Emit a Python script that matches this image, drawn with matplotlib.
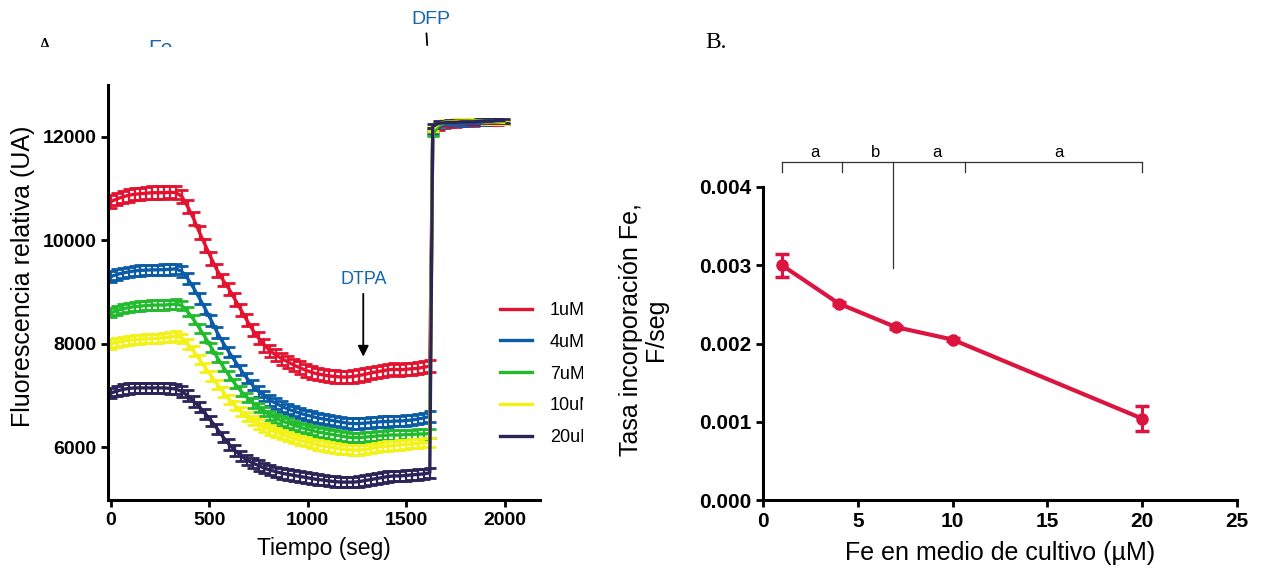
import numpy as np
import matplotlib
matplotlib.use("Agg")
import matplotlib.pyplot as plt

plt.rcParams['font.family'] = ['Liberation Sans', 'DejaVu Sans']

# ---- panel A data (time course, fluorescence) ----
t_pre = np.arange(0, 1621, 30)
t_post = np.arange(1635, 2000, 30)

labels = ['1uM', '4uM', '7uM', '10uM', '20uM']
colors = ['#e3122f', '#0b5ca6', '#22bb2e', '#f2f216', '#2c2458']
sem = [120, 100, 90, 90, 100]
sem_post = 40

f_1uM = [10750, 10800, 10840, 10870, 10890, 10900, 10910, 10920, 10920, 10920, 10930, 10920,
         10850, 10650, 10420, 10150, 9900, 9650, 9420, 9230, 9060, 8860, 8660, 8460, 8270,
         8110, 7970, 7860, 7780, 7710, 7650, 7590, 7540, 7490, 7450, 7420, 7400, 7380, 7370,
         7360, 7360, 7370, 7390, 7410, 7440, 7460, 7480, 7500, 7510, 7500, 7510, 7520, 7530,
         7550, 7570]
f_4uM = [9300, 9340, 9370, 9390, 9410, 9420, 9425, 9430, 9430, 9435, 9440, 9450,
         9400, 9260, 9080, 8880, 8670, 8450, 8220, 8020, 7840, 7670, 7500, 7340, 7200,
         7080, 6990, 6910, 6850, 6790, 6740, 6700, 6660, 6630, 6600, 6570, 6550, 6530, 6510,
         6490, 6470, 6460, 6460, 6470, 6480, 6490, 6500, 6500, 6510, 6510, 6520, 6530, 6550,
         6570, 6600]
f_7uM = [8600, 8640, 8680, 8700, 8720, 8730, 8740, 8750, 8750, 8750, 8760, 8770,
         8740, 8620, 8470, 8300, 8120, 7930, 7740, 7560, 7390, 7230, 7090, 6970, 6860,
         6770, 6690, 6620, 6560, 6510, 6470, 6430, 6390, 6360, 6330, 6300, 6280, 6260, 6240,
         6220, 6200, 6190, 6190, 6200, 6210, 6220, 6230, 6240, 6240, 6240, 6250, 6250, 6260,
         6260, 6270]
f_10uM = [8000, 8030, 8050, 8070, 8080, 8090, 8100, 8100, 8110, 8120, 8130, 8150,
          8110, 8000, 7860, 7700, 7540, 7380, 7220, 7070, 6930, 6810, 6700, 6600, 6520,
          6450, 6390, 6340, 6290, 6250, 6210, 6170, 6140, 6110, 6080, 6050, 6030, 6010, 5990,
          5970, 5960, 5950, 5950, 5960, 5980, 6000, 6020, 6030, 6040, 6050, 6060, 6070, 6080,
          6090, 6100]
f_20uM = [7050, 7090, 7120, 7140, 7150, 7150, 7150, 7150, 7150, 7150, 7140, 7130,
          7080, 7000, 6890, 6780, 6650, 6510, 6360, 6200, 6060, 5940, 5840, 5760, 5700,
          5650, 5600, 5560, 5530, 5500, 5480, 5460, 5440, 5420, 5400, 5380, 5370, 5350, 5340,
          5330, 5330, 5330, 5340, 5360, 5380, 5400, 5420, 5440, 5450, 5450, 5460, 5470, 5480,
          5490, 5510]

# after DFP
p_1uM = [12120, 12180, 12200, 12220, 12230, 12240, 12250, 12250, 12260, 12260, 12270, 12270, 12280]
p_4uM = [12080, 12200, 12230, 12240, 12250, 12250, 12260, 12260, 12270, 12270, 12280, 12280, 12290]
p_7uM = [12050, 12220, 12260, 12280, 12290, 12300, 12300, 12310, 12310, 12300, 12300, 12290, 12280]
p_10uM = [12150, 12250, 12280, 12290, 12300, 12300, 12300, 12300, 12300, 12290, 12290, 12290, 12280]
p_20uM = [12200, 12260, 12270, 12280, 12280, 12290, 12290, 12290, 12300, 12300, 12300, 12310, 12310]

pre = [f_1uM, f_4uM, f_7uM, f_10uM, f_20uM]
post = [p_1uM, p_4uM, p_7uM, p_10uM, p_20uM]

# ---- panel B data ----
fe_conc = [1, 4, 7, 10, 20]
tasa = [0.00300, 0.00251, 0.00221, 0.00205, 0.00104]
tasa_err = [0.00015, 0.00002, 0.00002, 0.00002, 0.00016]
grupos = ['a', 'b', 'a', 'a']

W, H = 1261, 572
fig = plt.figure(figsize=(W / 100, H / 100), dpi=100)


def fbox(x0, y0, x1, y1):
    # pixel box (top-left origin) -> figure fraction
    return [x0 / W, 1 - y1 / H, (x1 - x0) / W, (y1 - y0) / H]


# ================= panel A =================
ax = fig.add_axes(fbox(108, 85, 540, 500))
t_all = np.concatenate([t_pre, t_post])
handles = []
for vals, pvals, c, s, lab in zip(pre, post, colors, sem, labels):
    y = np.array(vals + pvals, dtype=float)
    e = np.array([s] * len(vals) + [sem_post] * len(pvals), dtype=float)
    cont = ax.errorbar(t_all, y, yerr=e, color=c, lw=2.4, elinewidth=1.6,
                       capsize=4, capthick=2.0, label=lab)
    handles.append(cont.lines[0])

ax.set_xlim(-15, 2180)
ax.set_ylim(4985, 13000)
ax.set_xticks([0, 500, 1000, 1500, 2000])
ax.set_yticks([6000, 8000, 10000, 12000])
for side in ['top', 'right']:
    ax.spines[side].set_visible(False)
for side in ['left', 'bottom']:
    ax.spines[side].set_linewidth(2.2)
ax.tick_params(width=2, length=5, labelsize=14)
for tl in ax.get_xticklabels() + ax.get_yticklabels():
    tl.set_fontweight('bold')
ax.set_xlabel('Tiempo (seg)', fontsize=16.5)
ax.set_ylabel('Fluorescencia relativa (UA)', fontsize=18)
ax.yaxis.set_label_coords(-0.17, 0.54)
ax.xaxis.set_label_coords(0.5, -0.09)

# DTPA arrow
ax.text(1282, 9240, 'DTPA', color='#1466b0', fontsize=13, ha='center', va='center')
ax.annotate('', xy=(1282, 7700), xytext=(1282, 9020),
            arrowprops=dict(arrowstyle='-|>', color='black', lw=1.3, mutation_scale=16))
# DFP mark
ax.annotate('DFP', xy=(1607, 13770), xytext=(1625, 14270), color='#1466b0', fontsize=14,
            ha='center', va='center', annotation_clip=False,
            arrowprops=dict(arrowstyle='-', color='black', lw=1.3, shrinkA=2, shrinkB=0,
                            relpos=(0.38, 0.0)))

# clipping region for the cut-off legend and letters
clip_ax = fig.add_axes(fbox(0, 0, 583, H))
clip_ax.set_axis_off()
leg = ax.legend(handles, labels, loc='upper left', frameon=False, fontsize=13,
                bbox_to_anchor=(500 / W, 1 - 302 / H), bbox_transform=fig.transFigure,
                borderpad=0, borderaxespad=0, handlelength=1.75, handletextpad=1.0,
                labelspacing=0.82)
for tx in leg.get_texts():
    tx.set_clip_box(clip_ax.bbox)
    tx.set_clip_on(True)

top_ax = fig.add_axes(fbox(0, 0, 583, 47))
top_ax.set_axis_off()
top_ax.set_xlim(0, 583)
top_ax.set_ylim(47, 0)
top_ax.text(148, 54, 'Fe', color='#1466b0', fontsize=15, ha='left', va='baseline', clip_on=True)
top_ax.text(38, 51, 'A', family='Liberation Serif', fontsize=14, ha='left', va='baseline', clip_on=True)

# ================= panel B =================
bx = fig.add_axes(fbox(763, 187, 1237, 500))
bx.errorbar(fe_conc, tasa, yerr=tasa_err, color='#dc1440', lw=3, marker='o', ms=8,
            elinewidth=2.2, capsize=5, capthick=2.5)
bx.set_xlim(0, 25)
bx.set_ylim(0, 0.004)
bx.set_xticks([0, 5, 10, 15, 20, 25])
bx.set_yticks([0.000, 0.001, 0.002, 0.003, 0.004])
bx.yaxis.set_major_formatter(matplotlib.ticker.FormatStrFormatter('%.3f'))
for side in ['top', 'right']:
    bx.spines[side].set_visible(False)
for side in ['left', 'bottom']:
    bx.spines[side].set_linewidth(2.2)
bx.tick_params(width=2, length=5, labelsize=15)
for tl in bx.get_xticklabels() + bx.get_yticklabels():
    tl.set_fontweight('bold')
bx.set_xlabel('Fe en medio de cultivo (µM)', fontsize=18)
bx.xaxis.set_label_coords(0.5, -0.13)
bx.set_ylabel('Tasa incorporación Fe,\nF/seg', fontsize=18, linespacing=1.05)
bx.yaxis.set_label_coords(-0.2, 0.545)

# significance brackets
yb, yt = 0.00432, 0.00419
kw = dict(color='#333333', lw=0.9, clip_on=False)
bx.plot([fe_conc[0], fe_conc[-1]], [yb, yb], **kw)
for xv in [fe_conc[0], 4.15, 10.65, fe_conc[-1]]:
    bx.plot([xv, xv], [yb, yt], **kw)
bx.plot([6.85, 6.85], [yb, 0.00297], **kw)
for xv, g in zip([2.75, 5.95, 9.2, 15.6], grupos):
    bx.text(xv, yb + 0.00002, g, fontsize=12, ha='center', va='bottom', clip_on=False)

fig.text(705 / W, 1 - 42 / H, 'B.', family='Liberation Serif', fontsize=17,
         ha='left', va='center')

fig.savefig('out.png', dpi=100)
